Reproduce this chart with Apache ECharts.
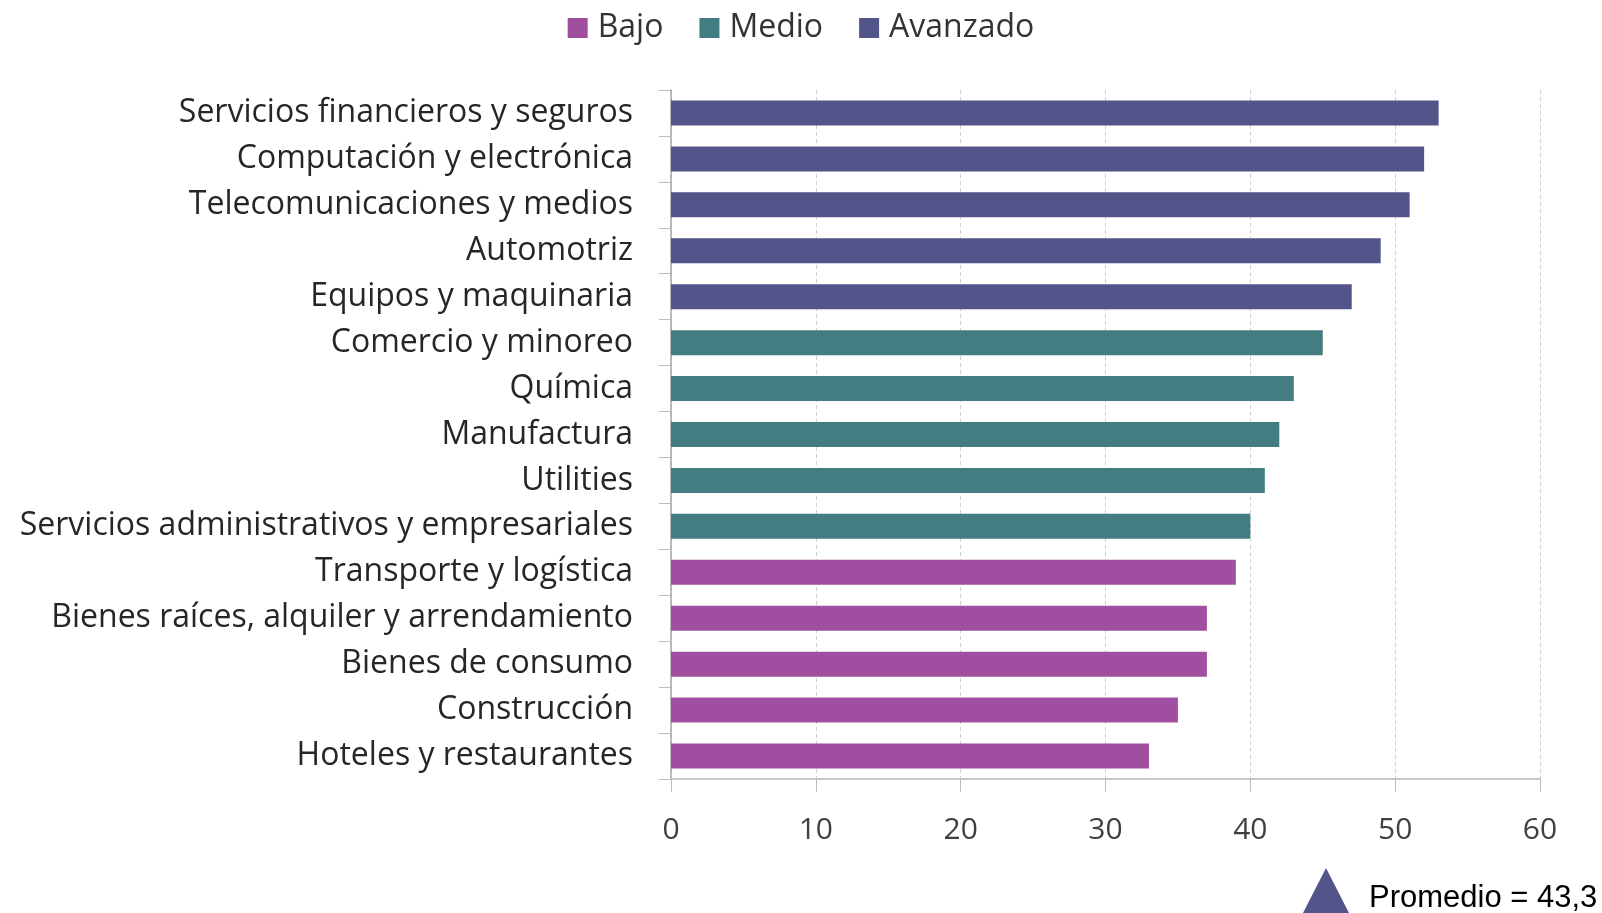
<!DOCTYPE html>
<html><head><meta charset="utf-8">
<script src="https://cdn.jsdelivr.net/npm/echarts@6/dist/echarts.min.js"></script>
<style>html,body{margin:0;padding:0;background:#fff}#c{width:1602px;height:913px}</style>
</head><body><div id="c"></div>
<script>
const categories = ["Servicios financieros y seguros","Computación y electrónica","Telecomunicaciones y medios","Automotriz","Equipos y maquinaria","Comercio y minoreo","Química","Manufactura","Utilities","Servicios administrativos y empresariales","Transporte y logística","Bienes raíces, alquiler y arrendamiento","Bienes de consumo","Construcción","Hoteles y restaurantes"];
const values = [53,52,51,49,47,45,43,42,41,40,39,37,37,35,33];
const levels = ["Avanzado","Avanzado","Avanzado","Avanzado","Avanzado","Medio","Medio","Medio","Medio","Medio","Bajo","Bajo","Bajo","Bajo","Bajo"];
const seriesNames = ["Bajo","Medio","Avanzado"];
const seriesColors = ["#9f4ea0","#437d82","#52548a"];
const xTicks = [0,10,20,30,40,50,60];
const noteText = "Promedio = 43,3";

const font = "'Open Sans', sans-serif";
const chart = echarts.init(document.getElementById('c'), null, {renderer:'canvas'});
const series = seriesNames.map((n,i)=>({
  name:n, type:'bar', stack:'s', barWidth:25,
  itemStyle:{color:seriesColors[i]},
  data: values.map((v,k)=> levels[k]===n ? v : '-')
}));
chart.setOption({
  animation:false,
  legend:{top:7,left:'center',itemWidth:20,itemHeight:20,itemGap:36,icon:'rect',
    textStyle:{fontFamily:font,fontSize:32,color:'#333',padding:[0,0,0,5]},data:seriesNames},
  grid:{left:671,right:62,top:90,bottom:134},
  xAxis:{type:'value',min:xTicks[0],max:xTicks[xTicks.length-1],interval:10,
    axisLine:{show:true,lineStyle:{color:'#c8c8c8',width:2}},
    axisTick:{show:true,length:13,lineStyle:{color:'#bbb'}},
    axisLabel:{fontFamily:font,fontSize:30,color:'#404040',margin:36},
    splitLine:{show:true,lineStyle:{color:'#d0d0d0',type:[4,3],width:1}}},
  yAxis:{type:'category',data:categories,inverse:true,
    axisLine:{show:true,lineStyle:{color:'#a6a6a6',width:1.5}},
    axisTick:{show:true,length:12,lineStyle:{color:'#bbb'}},
    axisLabel:{fontFamily:font,fontSize:32,color:'#262626',margin:38,padding:[6,0,0,0]}},
  series:series,
  graphic:[
    {type:'polygon',shape:{points:[[1326,868],[1303,913],[1349,913]]},style:{fill:'#52548a'}},
    {type:'text',x:1369,y:898,style:{text:noteText,font:"31px 'Liberation Sans', Arial, sans-serif",fill:'#000',verticalAlign:'middle'}}
  ]
});
</script></body></html>
